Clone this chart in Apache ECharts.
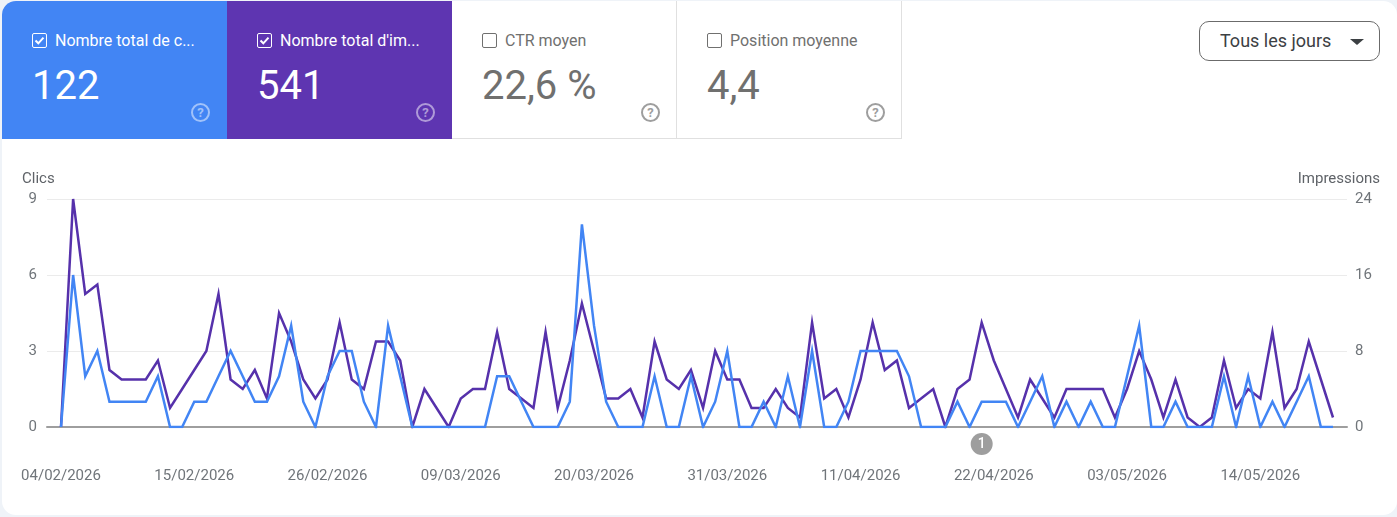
<!DOCTYPE html>
<html>
<head>
<meta charset="utf-8">
<script src="https://cdn.jsdelivr.net/npm/echarts@6/dist/echarts.min.js"></script>
<style>
  html, body { margin: 0; padding: 0; background: #eff3f8; }
  body { width: 1397px; height: 517px; overflow: hidden; font-family: Roboto, sans-serif; }
  #card { position: absolute; left: 2px; top: 1px; width: 1395px; height: 514px; background: #fff; border-radius: 14px; overflow: hidden; }
  #chart { position: absolute; left: 0; top: 0; width: 1397px; height: 517px; }
  .tile { position: absolute; top: 1px; width: 225px; height: 138px; box-sizing: border-box; color: #fff; }
  .tile.off { color: #70706f; border-right: 1px solid #e0e0e0; border-bottom: 1px solid #e0e0e0; background: #fff; }
  .tile .box { position: absolute; left: 30px; top: 32px; width: 15px; height: 15px; box-sizing: border-box; border: 1px solid #fff; border-radius: 2px; }
  .tile.off .box { border-color: #70706f; }
  .tile .box svg { position: absolute; left: 0; top: 0; }
  .tile .label { position: absolute; left: 53px; top: 30px; font-size: 16px; line-height: 20px; white-space: nowrap; }
  .tile .num { position: absolute; left: 30px; top: 61px; font-size: 40px; line-height: 48px; white-space: nowrap; }
  .tile .help { position: absolute; left: 189px; top: 102px; width: 19px; height: 19px; box-sizing: border-box; border: 2px solid rgba(255,255,255,.5); border-radius: 50%; color: rgba(255,255,255,.5); font-size: 13px; font-weight: 700; line-height: 15px; text-align: center; }
  .tile.off .help { border-color: #9e9e9e; color: #9e9e9e; }
  #period { position: absolute; left: 1199px; top: 21px; width: 181px; height: 40px; box-sizing: border-box; border: 1px solid #6b6b6b; border-radius: 10px; color: #3c4043; font-size: 18px; line-height: 38px; padding-left: 20px; background: #fff; }
  #period i { position: absolute; left: 150px; top: 17px; width: 0; height: 0; border-left: 7px solid transparent; border-right: 7px solid transparent; border-top: 6px solid #3c4043; }
</style>
</head>
<body>
<div id="card"></div>
<div id="chart"></div>
<div id="tiles"></div>
<div id="period">Tous les jours<i></i></div>
<script>
  var tileLabels = ['Nombre total de c...', "Nombre total d'im...", 'CTR moyen', 'Position moyenne'];
  var tileValues = ['122', '541', '22,6 %', '4,4'];
  var tileColors = ['#4285f4', '#5e35b1', null, null];

  var tickLabels = ['04/02/2026', '15/02/2026', '26/02/2026', '09/03/2026', '20/03/2026',
    '31/03/2026', '11/04/2026', '22/04/2026', '03/05/2026', '14/05/2026'];
  var tickDays = [0, 11, 22, 33, 44, 55, 66, 77, 88, 99];

  var clicks = [0, 6, 2, 3, 1, 1, 1, 1, 2, 0, 0, 1, 1, 2, 3, 2, 1, 1, 2, 4, 1, 0, 2, 3, 3, 1,
    0, 4, 2, 0, 0, 0, 0, 0, 0, 0, 2, 2, 1, 0, 0, 0, 1, 8, 4, 1, 0, 0, 0, 2, 0, 0, 2,
    0, 1, 3, 0, 0, 1, 0, 2, 0, 3, 0, 0, 1, 3, 3, 3, 3, 2, 0, 0, 0, 1, 0, 1, 1, 1, 0,
    1, 2, 0, 1, 0, 1, 0, 0, 2, 4, 0, 0, 1, 0, 0, 0, 2, 0, 2, 0, 1, 0, 1, 2, 0, 0];
  var impressions = [0, 24, 14, 15, 6, 5, 5, 5, 7, 2, 4, 6, 8, 14, 5, 4, 6, 3, 12, 9, 5, 3, 5, 11, 5, 4,
    9, 9, 7, 0, 4, 2, 0, 3, 4, 4, 10, 4, 3, 2, 10, 2, 7, 13, 8, 3, 3, 4, 1, 9, 5, 4, 6,
    2, 8, 5, 5, 2, 2, 4, 2, 1, 11, 3, 4, 1, 5, 11, 6, 7, 2, 3, 4, 0, 4, 5, 11, 7, 4, 1,
    5, 3, 1, 4, 4, 4, 4, 1, 4, 8, 5, 1, 5, 1, 0, 1, 7, 2, 4, 3, 10, 2, 4, 9, 5, 1];

  // score cards above the chart
  var tilesHtml = '';
  tileLabels.forEach(function (label, i) {
    var on = tileColors[i] !== null;
    var check = on ? '<svg width="13" height="13" viewBox="0 0 13 13"><path d="M2.5 6.5 L5.3 9.3 L10.5 3.6" fill="none" stroke="#fff" stroke-width="2"/></svg>' : '';
    tilesHtml += '<div class="tile' + (on ? '' : ' off') + '" style="left:' + (2 + 225 * i) + 'px;' +
      (on ? 'background:' + tileColors[i] + ';' : '') + (i === 0 ? 'border-top-left-radius:14px;' : '') + '">' +
      '<div class="box">' + check + '</div>' +
      '<div class="label">' + label + '</div>' +
      '<div class="num">' + tileValues[i] + '</div>' +
      '<div class="help">?</div></div>';
  });
  document.getElementById('tiles').innerHTML = tilesHtml;

  function toPoints(values) {
    return values.map(function (v, i) { return [i, v]; });
  }

  var axisText = { color: '#70757a', fontFamily: 'Roboto', fontSize: 15, padding: [2, 0, 0, 0] };
  var nameText = { color: '#5f6368', fontFamily: 'Roboto', fontSize: 15, fontWeight: 'normal' };

  var myChart = echarts.init(document.getElementById('chart'), null, { renderer: 'canvas' });
  myChart.setOption({
    animation: false,
    grid: { left: 47, top: 199, width: 1300, height: 228 },
    title: [
      { text: 'Clics', left: 22, top: 172, padding: 0, textStyle: nameText },
      { text: 'Impressions', right: 17, top: 172, padding: 0, textStyle: nameText }
    ],
    xAxis: {
      type: 'value',
      min: -1.156,
      max: 106.156,
      splitLine: { show: false },
      axisTick: { show: false },
      axisLine: { show: true, onZero: false, lineStyle: { color: '#9e9e9e', width: 2 } },
      axisLabel: {
        color: '#70757a', fontFamily: 'Roboto', fontSize: 15, margin: 42,
        customValues: tickDays,
        formatter: function (value) { return tickLabels[tickDays.indexOf(value)]; }
      }
    },
    yAxis: [
      {
        type: 'value', min: 0, max: 9, interval: 3,
        axisLine: { show: false }, axisTick: { show: false },
        splitLine: { lineStyle: { color: '#ebebeb', width: 1 } },
        axisLabel: Object.assign({ margin: 10 }, axisText)
      },
      {
        type: 'value', min: 0, max: 24, interval: 8, position: 'right',
        axisLine: { show: false }, axisTick: { show: false },
        splitLine: { show: false },
        axisLabel: Object.assign({ margin: 8 }, axisText)
      }
    ],
    series: [
      {
        name: 'Impressions', type: 'line', yAxisIndex: 1, data: toPoints(impressions),
        showSymbol: false, lineStyle: { color: '#5631ab', width: 2.5, join: 'miter' }, itemStyle: { color: '#5631ab' }, z: 2
      },
      {
        name: 'Clics', type: 'line', yAxisIndex: 0, data: toPoints(clicks),
        showSymbol: false, lineStyle: { color: '#4285f4', width: 2.5, join: 'miter' }, itemStyle: { color: '#4285f4' }, z: 3,
        markPoint: {
          symbol: 'circle', symbolSize: 22, symbolOffset: [0, 17],
          itemStyle: { color: '#9e9e9e' },
          label: { color: '#fff', fontFamily: 'Roboto', fontSize: 14, fontWeight: 500, formatter: '1' },
          data: [{ coord: [76, 0] }]
        }
      }
    ]
  });
</script>
</body>
</html>
